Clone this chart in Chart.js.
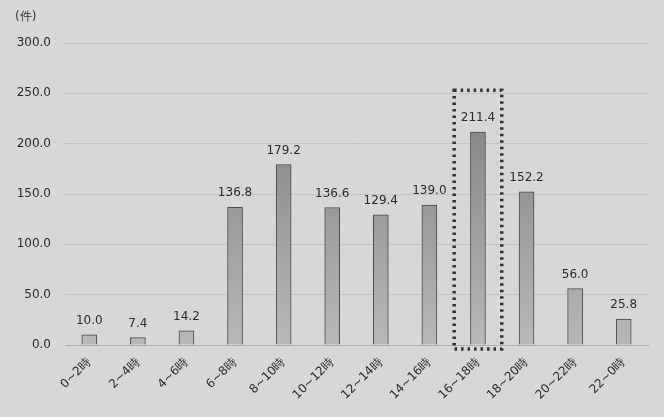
<!DOCTYPE html>
<html><head><meta charset="utf-8">
<script src="https://cdn.jsdelivr.net/npm/chart.js@4"></script>
<style>html,body{margin:0;padding:0;background:#d7d7d5;}#wrap{width:664px;height:417px;position:relative;}</style>
</head><body><div id="wrap"><canvas id="c" width="664" height="417"></canvas></div>
<script>
const categories = ["0~2時","2~4時","4~6時","6~8時","8~10時","10~12時","12~14時","14~16時","16~18時","18~20時","20~22時","22~0時"];
const values = [10.0, 7.4, 14.2, 136.8, 179.2, 136.6, 129.4, 139.0, 211.4, 152.2, 56.0, 25.8];
const highlightIndex = 8;
const unitLabel = "(件)";
const FONT = "'DejaVu Sans', sans-serif";

const bgPlugin = {
  id: 'bg',
  beforeDraw(chart) {
    const ctx = chart.ctx;
    ctx.save();
    ctx.fillStyle = '#d7d7d5';
    ctx.fillRect(0, 0, chart.width, chart.height);
    ctx.fillStyle = '#333';
    ctx.font = "12px " + FONT;
    ctx.textAlign = 'left';
    ctx.textBaseline = 'middle';
    ctx.fillText(unitLabel, 15, 17);
    ctx.restore();
  }
};

const labelPlugin = {
  id: 'vals',
  afterDatasetsDraw(chart) {
    const ctx = chart.ctx;
    const meta = chart.getDatasetMeta(0);
    ctx.save();
    ctx.fillStyle = '#2a2a2a';
    ctx.font = "12px " + FONT;
    ctx.textAlign = 'center';
    ctx.textBaseline = 'bottom';
    meta.data.forEach((bar, i) => {
      ctx.fillText(values[i].toFixed(1), bar.x, bar.y - 8);
    });
    // dotted highlight box
    const bar = meta.data[highlightIndex];
    const xs = chart.scales.x, ys = chart.scales.y;
    const half = (xs.getPixelForValue(1) - xs.getPixelForValue(0)) / 2;
    const left = bar.x - half, right = bar.x + half;
    const top = ys.getPixelForValue(253), bottom = ys.getPixelForValue(-4);
    ctx.strokeStyle = '#333';
    ctx.lineWidth = 3.5;
    ctx.setLineDash([2.5, 4]);
    ctx.strokeRect(left + 0.5, top, right - left - 1, bottom - top);
    ctx.restore();
  }
};

new Chart(document.getElementById('c'), {
  type: 'bar',
  data: {
    labels: categories,
    datasets: [{
      data: values,
      backgroundColor(ctx) {
        const area = ctx.chart.chartArea;
        if (!area) return '#999';
        const g = ctx.chart.ctx.createLinearGradient(0, area.top, 0, area.bottom);
        g.addColorStop(0, '#757575');
        g.addColorStop(1, '#b8b8b8');
        return g;
      },
      borderColor: '#4a4a4a',
      borderWidth: 1,
      barThickness: 15
    }]
  },
  options: {
    responsive: false,
    animation: false,
    layout: { padding: { top: 43, right: 16, left: 0, bottom: 0 } },
    plugins: { legend: { display: false }, tooltip: { enabled: false } },
    scales: {
      x: {
        grid: { display: false, drawTicks: false },
        border: { display: true, color: '#b0b0b0' },
        ticks: { color: '#2a2a2a', font: { family: FONT, size: 12 }, minRotation: 45, maxRotation: 45, padding: 10 },
        afterFit(s) { s.height = 72; }
      },
      y: {
        min: 0, max: 300,
        grid: { color: '#c3c3c3', drawTicks: false },
        border: { display: false },
        ticks: { stepSize: 50, color: '#2a2a2a', font: { family: FONT, size: 12 }, padding: 14,
          callback: v => Number(v).toFixed(1) },
        afterFit(s) { s.width = 65; }
      }
    }
  },
  plugins: [bgPlugin, labelPlugin]
});
</script></body></html>
